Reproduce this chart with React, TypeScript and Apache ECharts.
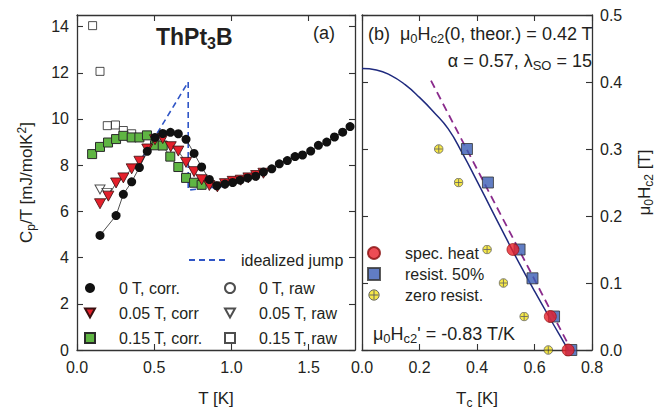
import React, { useEffect, useRef } from "react";
import * as echarts from "echarts";

// ---------- Panel (a): specific heat ----------
const T0corr = [0.149, 0.253, 0.300, 0.354, 0.404, 0.455, 0.505, 0.555, 0.605, 0.656, 0.706, 0.758, 0.807, 0.857, 0.905, 0.958, 1.008, 1.056, 1.105, 1.157, 1.207, 1.261, 1.310, 1.362, 1.412, 1.460, 1.513, 1.563, 1.617, 1.667, 1.720, 1.768];
const C0corr = [4.96, 5.82, 6.74, 7.28, 7.90, 8.60, 9.20, 9.37, 9.42, 9.36, 9.12, 8.51, 7.92, 7.38, 7.11, 7.18, 7.25, 7.35, 7.45, 7.52, 7.70, 7.84, 8.06, 8.20, 8.37, 8.44, 8.61, 8.86, 9.00, 9.22, 9.43, 9.67];

const T005corr = [0.149, 0.203, 0.253, 0.300, 0.354, 0.404, 0.455, 0.505, 0.555, 0.607, 0.656, 0.706, 0.758, 0.807, 0.857, 0.909, 0.958, 1.008, 1.060, 1.110, 1.160, 1.207];
const C005corr = [6.33, 6.66, 7.23, 7.45, 7.84, 8.17, 8.70, 9.10, 9.15, 8.80, 8.61, 8.12, 7.72, 7.37, 7.12, 7.06, 7.20, 7.30, 7.35, 7.45, 7.55, 7.65];

const T015corr = [0.098, 0.149, 0.201, 0.253, 0.300, 0.354, 0.404, 0.453, 0.505, 0.555, 0.604, 0.656, 0.706, 0.758, 0.807];
const C015corr = [8.48, 8.79, 8.98, 9.13, 9.27, 9.20, 9.20, 9.29, 8.86, 8.85, 8.37, 7.92, 7.45, 7.24, 7.15];

const T0raw: number[] = [];
const C0raw: number[] = [];

const T005raw = [0.149, 0.194];
const C005raw = [6.95, 6.80];

const T015raw = [0.101, 0.149, 0.196, 0.249, 0.300, 0.354];
const C015raw = [14.04, 12.06, 9.71, 9.74, 9.50, 9.36];

const TjumpIdeal = [0.385, 0.72, 0.72, 0.94];
const CjumpIdeal = [7.9, 11.6, 6.92, 7.08];

// ---------- Panel (b): upper critical field ----------
const TcSpecHeat = [0.525, 0.655, 0.717];
const HSpecHeat = [0.15, 0.05, 0.0];

const TcResist50 = [0.365, 0.438, 0.548, 0.593, 0.668, 0.728];
const HResist50 = [0.30, 0.25, 0.15, 0.107, 0.05, 0.0];

const TcZeroRes = [0.267, 0.336, 0.435, 0.492, 0.564, 0.648];
const HZeroRes = [0.30, 0.25, 0.15, 0.10, 0.05, 0.0];

const TcTheory = [0, 0.05, 0.1, 0.15, 0.2, 0.25, 0.3, 0.35, 0.4, 0.45, 0.5, 0.55, 0.6, 0.65, 0.7, 0.718];
const HTheory = [0.42, 0.418, 0.41, 0.396, 0.377, 0.355, 0.33, 0.293, 0.252, 0.21, 0.168, 0.127, 0.088, 0.05, 0.013, 0.0];

const TcSlope = [0.24, 0.713];
const HSlope = [0.402, 0.012];

const xTicksA = [0, 0.5, 1.0, 1.5];
const yTicksA = [0, 2, 4, 6, 8, 10, 12, 14];
const xTicksB = [0, 0.2, 0.4, 0.6, 0.8];
const yTicksB = [0, 0.1, 0.2, 0.3, 0.4, 0.5];

const zip = (a: number[], b: number[]) => a.map((v, i) => [v, b[i]]);

const FONT = "'Liberation Sans', Arial, Helvetica, sans-serif";
const INK = "#231f20";
const TRI_DOWN = "path://M0,0L10,0L5,9Z";

const zeroResSvg =
  "<svg xmlns='http://www.w3.org/2000/svg' width='20' height='20'>" +
  "<circle cx='10' cy='10' r='8.6' fill='#f3e21c' stroke='#3a3a3a' stroke-width='1.6'/>" +
  "<path d='M10 2.5V17.5M2.5 10H17.5' stroke='#3a3a3a' stroke-width='1.6'/></svg>";
const ZERO_RES_ICON = "image://data:image/svg+xml;charset=utf-8," + encodeURIComponent(zeroResSvg);

const richSub = {
  sub: { fontSize: 12, lineHeight: 12, verticalAlign: "bottom", fontFamily: FONT, color: INK },
  sup: { fontSize: 12, lineHeight: 12, verticalAlign: "top", fontFamily: FONT, color: INK },
};
const annSub = { s: { fontSize: 13, lineHeight: 13, verticalAlign: "bottom", fontFamily: FONT, fill: INK } };

export default function App() {
  const ref = useRef<HTMLDivElement>(null);

  useEffect(() => {
    if (!ref.current) return;
    const chart = echarts.init(ref.current, undefined, { renderer: "svg" });

    const axisLine = { show: true, onZero: false, lineStyle: { color: "#333", width: 1.3 } };
    const tick = { show: true, inside: true, length: 6, lineStyle: { color: "#333", width: 1.1 } };
    const labelStyle = { fontSize: 16, color: INK, fontFamily: FONT };
    const nameStyle = { fontSize: 17, lineHeight: 21, color: INK, fontFamily: FONT, rich: richSub };

    const base = (o: any) => ({ splitLine: { show: false }, axisLine, axisTick: tick, ...o });
    const legendText = (pad: number) => ({ fontSize: 16, lineHeight: 20, color: INK, fontFamily: FONT, padding: [0, 0, 0, pad] });

    const option: any = {
      animation: false,
      backgroundColor: "#fff",
      textStyle: { fontFamily: FONT },
      grid: [
        { left: 77, top: 15, width: 278, height: 340 },
        { left: 362, top: 15, width: 237, height: 340 },
      ],
      xAxis: [
        base({
          gridIndex: 0, type: "value", position: "bottom", min: 0, max: 1.8, interval: 0.5,
          axisLabel: { ...labelStyle, margin: 9, showMaxLabel: false, formatter: (v: number) => (xTicksA.includes(v) ? v.toFixed(1) : "") },
          name: "T [K]", nameLocation: "middle", nameGap: 38, nameTextStyle: nameStyle,
        }),
        base({ gridIndex: 0, type: "value", position: "top", min: 0, max: 1.8, interval: 0.5, axisLabel: { show: false } }),
        base({
          gridIndex: 1, type: "value", position: "bottom", min: 0, max: 0.8, interval: 0.2,
          axisLabel: { ...labelStyle, margin: 9, formatter: (v: number) => (xTicksB.some((t) => Math.abs(t - v) < 1e-9) ? v.toFixed(1) : "") },
          name: "T{sub|c} [K]", nameLocation: "middle", nameGap: 38, nameTextStyle: nameStyle,
        }),
        base({ gridIndex: 1, type: "value", position: "top", min: 0, max: 0.8, interval: 0.2, axisLabel: { show: false } }),
      ],
      yAxis: [
        base({
          gridIndex: 0, type: "value", position: "left", min: 0, max: 14.5, interval: 2,
          axisLabel: { ...labelStyle, margin: 8, showMaxLabel: false, formatter: (v: number) => (yTicksA.includes(v) ? String(v) : "") },
          name: "C{sub|p}/T [mJ/molK{sup|2}]", nameLocation: "middle", nameRotate: 90, nameGap: 40, nameTextStyle: nameStyle,
        }),
        base({ gridIndex: 0, type: "value", position: "right", min: 0, max: 14.5, interval: 2, axisLabel: { show: false } }),
        base({ gridIndex: 1, type: "value", position: "left", min: 0, max: 0.5, interval: 0.1, axisLabel: { show: false } }),
        base({
          gridIndex: 1, type: "value", position: "right", min: 0, max: 0.5, interval: 0.1,
          axisLabel: { ...labelStyle, margin: 8, formatter: (v: number) => (yTicksB.some((t) => Math.abs(t - v) < 1e-9) ? v.toFixed(1) : "") },
          name: "μ{sub|0}H{sub|c2} [T]", nameLocation: "middle", nameRotate: 90, nameGap: 42, nameTextStyle: nameStyle,
        }),
      ],
      legend: [
        {
          left: 188, top: 250, padding: 0, itemWidth: 40, itemHeight: 10, itemGap: 0,
          textStyle: legendText(7), itemStyle: { opacity: 0 },
          data: ["idealized jump"], selectedMode: false,
        },
        {
          left: 84, top: 278, padding: 0, orient: "vertical", itemWidth: 10, itemHeight: 10, itemGap: 5,
          textStyle: legendText(19),
          data: [
            { name: "0 T, corr.", icon: "circle" },
            { name: "0.05 T, corr", icon: TRI_DOWN },
            { name: "0.15 T, corr.", icon: "rect" },
          ],
          selectedMode: false,
        },
        {
          left: 224, top: 278, padding: 0, orient: "vertical", itemWidth: 10, itemHeight: 10, itemGap: 5,
          textStyle: legendText(19),
          data: [
            { name: "0 T, raw", icon: "circle" },
            { name: "0.05 T, raw", icon: TRI_DOWN },
            { name: "0.15 T, raw", icon: "rect" },
          ],
          selectedMode: false,
        },
        {
          left: 367, top: 243, padding: 0, orient: "vertical", itemWidth: 12, itemHeight: 12, itemGap: 1,
          textStyle: legendText(20),
          data: [
            { name: "spec. heat", icon: "circle" },
            { name: "resist. 50%", icon: "rect" },
            { name: "zero resist.", icon: ZERO_RES_ICON },
          ],
          selectedMode: false,
        },
      ],
      graphic: [
        {
          type: "text", left: 156, top: 23, z: 10,
          style: {
            text: "ThPt{s|3}B", fill: INK, font: `bold 23px ${FONT}`, lineHeight: 28,
            rich: { s: { fontSize: 16, fontWeight: "bold", lineHeight: 14, verticalAlign: "bottom", fontFamily: FONT, fill: INK } },
          },
        },
        { type: "text", left: 313, top: 24, z: 10, style: { text: "(a)", fill: INK, font: `18px ${FONT}` } },
        {
          type: "text", left: 368, top: 23, z: 10,
          style: { text: "(b)  μ{s|0}H{s|c2}(0, theor.) = 0.42 T", fill: INK, font: `18px ${FONT}`, lineHeight: 22, rich: annSub },
        },
        {
          type: "text", right: 64, top: 50, z: 10,
          style: { text: "α = 0.57, λ{s|SO} = 15", fill: INK, font: `18px ${FONT}`, lineHeight: 22, rich: annSub },
        },
        {
          type: "text", left: 373, top: 323, z: 10,
          style: { text: "μ{s|0}H{s|c2}' = -0.83 T/K", fill: INK, font: `18px ${FONT}`, lineHeight: 22, rich: annSub },
        },
      ],
      series: [
        {
          name: "idealized jump", type: "line", xAxisIndex: 0, yAxisIndex: 0, data: zip(TjumpIdeal, CjumpIdeal),
          symbol: "none", z: 1, lineStyle: { color: "#2f55c6", width: 1.6, type: [6, 4] }, itemStyle: { color: "#2f55c6" },
        },
        {
          name: "0 T, raw", type: "scatter", xAxisIndex: 0, yAxisIndex: 0, data: zip(T0raw, C0raw),
          symbol: "circle", symbolSize: 8, z: 2, itemStyle: { color: "#fff", borderColor: "#222", borderWidth: 1 },
        },
        {
          name: "0.05 T, raw", type: "scatter", xAxisIndex: 0, yAxisIndex: 0, data: zip(T005raw, C005raw),
          symbol: TRI_DOWN, symbolSize: [10, 9], z: 2, itemStyle: { color: "#fff", borderColor: "#222", borderWidth: 1 },
        },
        {
          name: "0.15 T, raw", type: "scatter", xAxisIndex: 0, yAxisIndex: 0, data: zip(T015raw, C015raw),
          symbol: "rect", symbolSize: 8, z: 2, itemStyle: { color: "#fff", borderColor: "#222", borderWidth: 1 },
        },
        {
          name: "0.15 T, corr.", type: "line", xAxisIndex: 0, yAxisIndex: 0, data: zip(T015corr, C015corr),
          symbol: "rect", symbolSize: 9, showAllSymbol: true, z: 3,
          lineStyle: { color: "#333", width: 0.8 }, itemStyle: { color: "#5fb543", borderColor: "#2a2a2a", borderWidth: 1 },
        },
        {
          name: "0.05 T, corr", type: "line", xAxisIndex: 0, yAxisIndex: 0, data: zip(T005corr, C005corr),
          symbol: TRI_DOWN, symbolSize: [11, 10], showAllSymbol: true, z: 4,
          lineStyle: { color: "#333", width: 0.8 }, itemStyle: { color: "#e4202b", borderColor: "#3a1010", borderWidth: 0.8 },
        },
        {
          name: "0 T, corr.", type: "line", xAxisIndex: 0, yAxisIndex: 0, data: zip(T0corr, C0corr),
          symbol: "circle", symbolSize: 9, showAllSymbol: true, z: 5,
          lineStyle: { color: "#222", width: 0.8 }, itemStyle: { color: "#111", borderColor: "#111", borderWidth: 0 },
        },
        // panel (b)
        {
          name: "theory", type: "line", xAxisIndex: 2, yAxisIndex: 2, data: zip(TcTheory, HTheory),
          symbol: "none", smooth: true, z: 2, lineStyle: { color: "#1f2a7e", width: 1.5 },
        },
        {
          name: "slope", type: "line", xAxisIndex: 2, yAxisIndex: 2, data: zip(TcSlope, HSlope),
          symbol: "none", z: 2, lineStyle: { color: "#8a2b8c", width: 1.8, type: [8, 5] },
        },
        {
          name: "zero resist.", type: "scatter", xAxisIndex: 2, yAxisIndex: 2, data: zip(TcZeroRes, HZeroRes),
          symbol: ZERO_RES_ICON, symbolSize: 10, z: 3, itemStyle: { color: "#f3e21c" },
        },
        {
          name: "resist. 50%", type: "scatter", xAxisIndex: 2, yAxisIndex: 2, data: zip(TcResist50, HResist50),
          symbol: "rect", symbolSize: 11, z: 3, itemStyle: { color: "#3a5db4", borderColor: "#333", borderWidth: 1 },
        },
        {
          name: "spec. heat", type: "scatter", xAxisIndex: 2, yAxisIndex: 2, data: zip(TcSpecHeat, HSpecHeat),
          symbol: "circle", symbolSize: 12, z: 4, itemStyle: { color: "#e8212b", borderColor: "#8a1010", borderWidth: 0.8 },
        },
      ],
    };

    chart.setOption(option);
    return () => chart.dispose();
  }, []);

  return (
    <div
      ref={ref}
      style={{ position: "fixed", left: 0, top: 0, width: 656, height: 414, background: "#fff" }}
    />
  );
}
